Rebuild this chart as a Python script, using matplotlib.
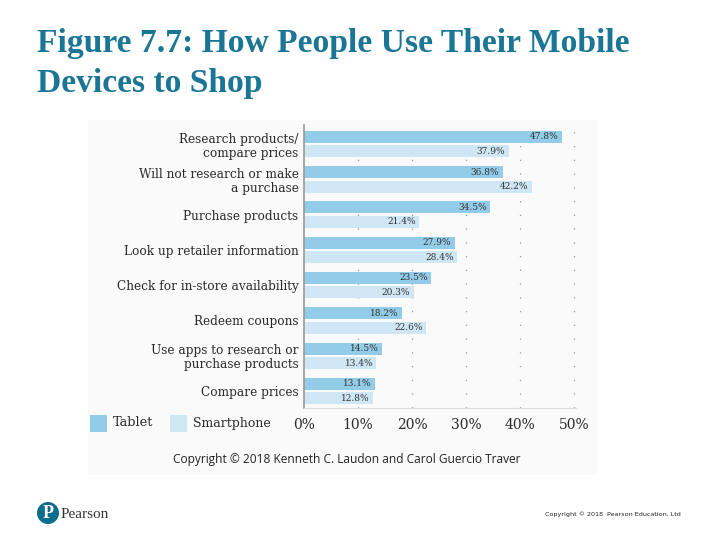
import numpy as np
import matplotlib.pyplot as plt
from matplotlib.patches import Rectangle, Circle

# data
categories = ['Research products/\ncompare prices', 'Will not research or make\na purchase',
              'Purchase products', 'Look up retailer information', 'Check for in-store availability',
              'Redeem coupons', 'Use apps to research or\npurchase products', 'Compare prices']
tablet = [47.8, 36.8, 34.5, 27.9, 23.5, 18.2, 14.5, 13.1]
smartphone = [37.9, 42.2, 21.4, 28.4, 20.3, 22.6, 13.4, 12.8]
xticks = [0, 10, 20, 30, 40, 50]
xtick_labels = ['0%', '10%', '20%', '30%', '40%', '50%']

tablet_color = '#93CCE8'
phone_color = '#CFE7F5'
text_color = '#2b2b2b'
serif = ['DejaVu Serif']

fig = plt.figure(figsize=(7.2, 5.4), dpi=100)
W, H = 720, 540

def fx(px):
    return px / W

def fy(py):
    return 1 - py / H

# light panel behind the chart image
fig.patches.append(Rectangle((fx(88), fy(475)), fx(597) - fx(88), fy(120) - fy(475),
                             transform=fig.transFigure, facecolor='#FAFAFA', edgecolor='none', zorder=-5))

# title
fig.text(fx(37), fy(52), 'Figure 7.7: How People Use Their Mobile', fontsize=24.2,
         fontfamily='Liberation Serif', fontweight='bold', color='#1B7594', va='baseline')
fig.text(fx(37), fy(92), 'Devices to Shop', fontsize=24.2,
         fontfamily='Liberation Serif', fontweight='bold', color='#1B7594', va='baseline')

ax = fig.add_axes([fx(304), fy(408), fx(576) - fx(304), fy(125) - fy(408)])
ax.set_zorder(2)
ax.set_facecolor('none')

y = np.arange(len(categories))
h = 0.34
off = 0.205
ax.barh(y - off, tablet, height=h, color=tablet_color, zorder=2)
ax.barh(y + off, smartphone, height=h, color=phone_color, zorder=2)

for i in range(len(categories)):
    ax.text(tablet[i] - 0.6, y[i] - off, f'{tablet[i]:.1f}%', ha='right', va='center',
            fontsize=6.5, color='#333333', fontfamily=serif, zorder=3)
    ax.text(smartphone[i] - 0.6, y[i] + off, f'{smartphone[i]:.1f}%', ha='right', va='center',
            fontsize=6.5, color='#333333', fontfamily=serif, zorder=3)

ax.set_xlim(0, 50.4)
ax.set_ylim(7.48, -0.54)

for gx in xticks[1:]:
    ax.axvline(gx, color='#9a9a9a', linestyle=(0, (1, 10)), linewidth=0.9, zorder=1)

ax.set_xticks(xticks)
ax.set_xticklabels(xtick_labels, fontsize=10, fontfamily=serif, color=text_color)
ax.tick_params(axis='x', length=0, pad=7)
ax.set_yticks(y)
ax.set_yticklabels(categories, fontsize=8.7, fontfamily=serif, color=text_color, linespacing=1.1)
ax.tick_params(axis='y', length=0, pad=4)

for s in ['top', 'right']:
    ax.spines[s].set_visible(False)
ax.spines['left'].set_color('#999999')
ax.spines['bottom'].set_color('#dddddd')
ax.spines['left'].set_linewidth(1.2)

# legend
fig.patches.append(Rectangle((fx(90), fy(432)), fx(17), fy(415) - fy(432), transform=fig.transFigure,
                             facecolor=tablet_color, edgecolor='none'))
fig.text(fx(113), fy(423), 'Tablet', fontsize=9.3, fontfamily=serif, color=text_color, va='center')
fig.patches.append(Rectangle((fx(170), fy(432)), fx(17), fy(415) - fy(432), transform=fig.transFigure,
                             facecolor=phone_color, edgecolor='none'))
fig.text(fx(193), fy(423), 'Smartphone', fontsize=9.0, fontfamily=serif, color=text_color, va='center')

fig.text(fx(347), fy(459), 'Copyright © 2018 Kenneth C. Laudon and Carol Guercio Traver', fontsize=8.6,
         fontfamily='Open Sans', color='#222222', ha='center', va='center')

# footer
fig.patches.append(Circle((0.48, (540 - 513) / 100), 0.11, transform=fig.dpi_scale_trans,
                          facecolor='#0C6D8C', edgecolor='none'))
fig.text(fx(48), fy(513), 'P', fontsize=13, fontfamily='Liberation Serif', fontweight='bold',
         color='white', ha='center', va='center')
fig.text(fx(61), fy(514), 'Pearson', fontsize=11, fontfamily='Liberation Serif', color='#333333',
         va='center')
fig.text(fx(545), fy(514), 'Copyright © 2018  Pearson Education, Ltd', fontsize=4.6,
         fontfamily='DejaVu Sans', color='#222222', va='center')

fig.savefig('out.png', dpi=100, facecolor='white')
